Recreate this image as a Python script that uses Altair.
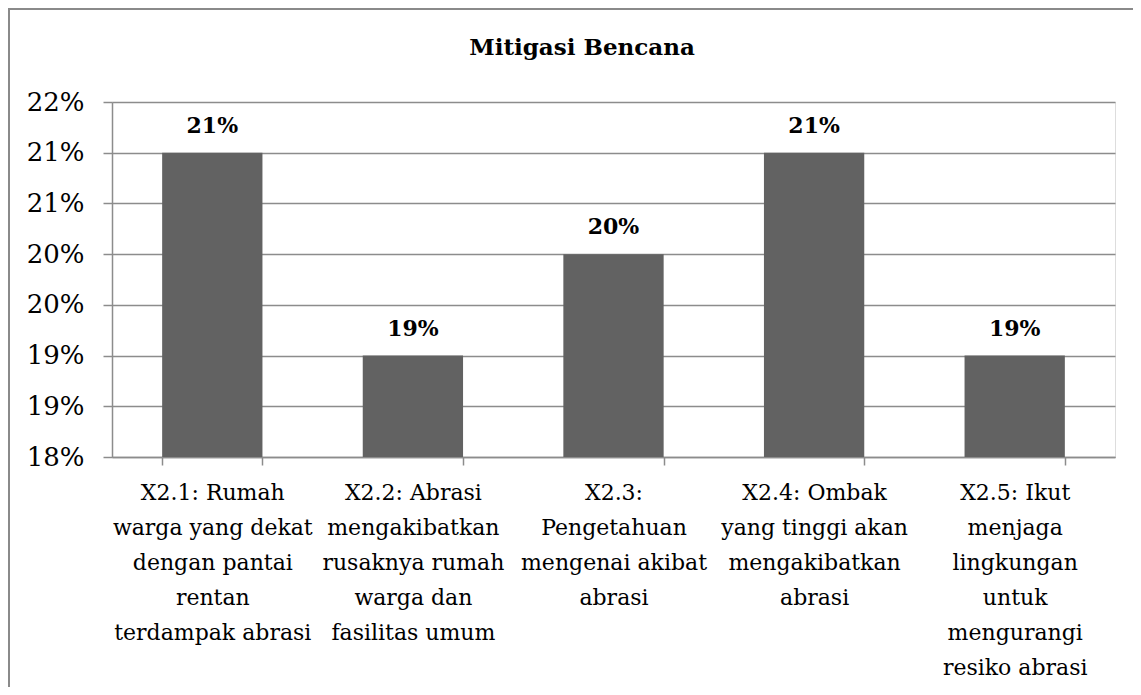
import altair as alt
import pandas as pd

title = "Mitigasi Bencana"
categories = [
    "X2.1: Rumah|warga yang dekat|dengan pantai|rentan|terdampak abrasi",
    "X2.2: Abrasi|mengakibatkan|rusaknya rumah|warga dan|fasilitas umum",
    "X2.3:|Pengetahuan|mengenai akibat|abrasi",
    "X2.4: Ombak|yang tinggi akan|mengakibatkan|abrasi",
    "X2.5: Ikut|menjaga|lingkungan|untuk|mengurangi|resiko abrasi",
]
values = [21.0, 19.0, 20.0, 21.0, 19.0]
value_labels = ["21%", "19%", "20%", "21%", "19%"]
y_ticks = [18.0, 18.5, 19.0, 19.5, 20.0, 20.5, 21.0, 21.5]
y_tick_labels = ["18%", "19%", "19%", "20%", "20%", "21%", "21%", "22%"]

df = pd.DataFrame({"cat": categories, "val": values, "lbl": value_labels})
df_title = pd.DataFrame({"t": [title]})

W, H = 1003, 355
serif = "DejaVu Serif"
grid_col = "#8c8c8c"

label_lookup = "[" + ",".join("'%s'" % s for s in y_tick_labels) + "]"

x_enc = alt.X(
    "cat:N",
    sort=categories,
    scale=alt.Scale(paddingInner=0.5, paddingOuter=0.25),
    axis=alt.Axis(
        title=None,
        labelAngle=0,
        labelExpr="split(datum.label, '|')",
        labelFont=serif,
        labelFontSize=22,
        labelLineHeight=35,
        labelColor="black",
        labelPadding=17,
        tickBand="extent",
        tickSize=8,
        tickColor=grid_col,
        domainColor=grid_col,
        domainWidth=1.5,
        tickWidth=1.5,
        labelLimit=0,
    ),
)

y_enc = alt.Y(
    "val:Q",
    scale=alt.Scale(domain=[18, 21.5], nice=False, zero=False),
    axis=alt.Axis(
        title=None,
        values=y_ticks,
        labelExpr=label_lookup + "[round((datum.value - 18) / 0.5)]",
        labelFont=serif,
        labelFontSize=26,
        labelColor="black",
        labelPadding=19,
        tickSize=9,
        tickColor=grid_col,
        tickWidth=1.5,
        domainColor=grid_col,
        domainWidth=1.5,
        grid=True,
        gridColor=grid_col,
        gridWidth=1.5,
    ),
)

bars = alt.Chart(df).mark_bar(color="#626262", clip=True).encode(x=x_enc, y=y_enc)

texts = alt.Chart(df).mark_text(
    font=serif, fontSize=22, fontWeight="bold", color="black",
    baseline="alphabetic", dy=-20
).encode(x=alt.X("cat:N", sort=categories), y="val:Q", text="lbl:N")

title_mark = alt.Chart(df_title).mark_text(
    font=serif, fontSize=23, fontWeight="bold", color="black", baseline="middle"
).encode(x=alt.value(470), y=alt.value(-54), text="t:N")

border_top = alt.Chart(df_title).mark_rule(color="#8a8a8a", strokeWidth=2).encode(
    x=alt.value(-104), x2=alt.value(W + 40), y=alt.value(-93)
)
border_left = alt.Chart(df_title).mark_rule(color="#8a8a8a", strokeWidth=2).encode(
    x=alt.value(-103), y=alt.value(-93), y2=alt.value(H + 260)
)

chart = (
    alt.layer(bars, texts, title_mark, border_top, border_left)
    .properties(
        width=W,
        height=H,
        autosize=alt.AutoSizeParams(type="none"),
        padding={"left": 104, "top": 94, "right": 18, "bottom": 230},
    )
    .configure_view(stroke=None)
    .configure(background="white")
)

chart.save("out.html", embed_options={"renderer": "svg", "actions": False})
